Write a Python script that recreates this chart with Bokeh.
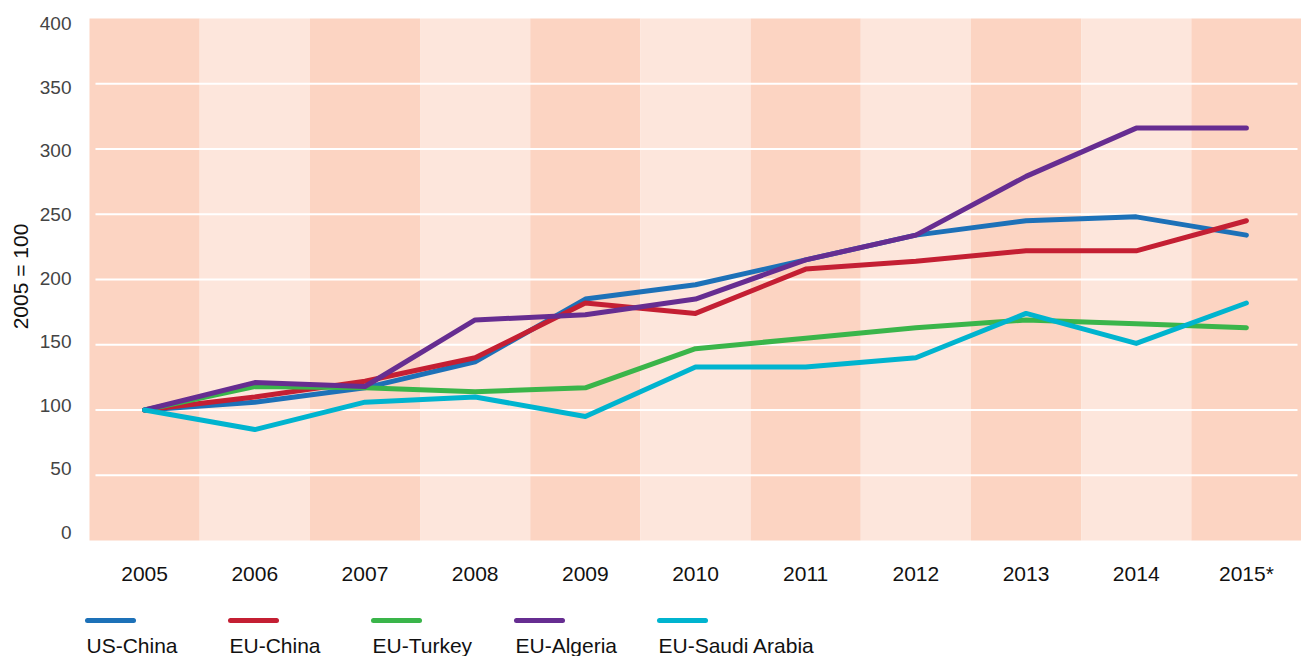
import math
from bokeh.plotting import figure
from bokeh.models import Range1d
from bokeh.embed import file_html
from bokeh.resources import INLINE
from bokeh.core.properties import value

years = ["2005", "2006", "2007", "2008", "2009", "2010", "2011", "2012", "2013", "2014", "2015*"]
us_china = [100, 106, 117, 137, 185, 196, 215, 234, 245, 248, 234]
eu_china = [100, 110, 122, 140, 182, 174, 208, 214, 222, 222, 245]
eu_turkey = [100, 118, 117, 114, 117, 147, 155, 163, 169, 166, 163]
eu_algeria = [100, 121, 118, 169, 173, 185, 215, 234, 279, 316, 316]
eu_saudi = [100, 85, 106, 110, 95, 133, 133, 140, 174, 151, 182]
series_names = ["US-China", "EU-China", "EU-Turkey", "EU-Algeria", "EU-Saudi Arabia"]
series_values = [us_china, eu_china, eu_turkey, eu_algeria, eu_saudi]
y_ticks = [0, 50, 100, 150, 200, 250, 300, 350, 400]
y_title = "2005 = 100"

colors = ["#1d71b8", "#c41f33", "#3ab54a", "#662d91", "#00b4cf"]
band_colors = ["#fcd4c2" if i % 2 == 0 else "#fde6dc" for i in range(len(years))]
FONT = "Liberation Sans"
xi = list(range(len(years)))  # category index positions

# layout geometry (page pixels)
OX, OY = 0, 0                     # canvas offset on the page
W, H = 1301, 656
BAND_L, BAND_R = 89, 1301
Y0_PX, Y400_PX = 540, 18          # where 0 and 400 of the data sit
LAB0_PX, LAB400_PX = 532, 23      # where the tick labels sit
unit = (BAND_R - BAND_L) / len(years)
ppu = (Y0_PX - Y400_PX) / 400.0
lpu = (LAB0_PX - LAB400_PX) / 400.0

p = figure(x_range=Range1d(-0.5 - (BAND_L - OX) / unit, -0.5 + (OX + W - BAND_L) / unit),
           y_range=Range1d(-(OY + H - Y0_PX) / ppu, 400 + (Y400_PX - OY) / ppu),
           width=W, height=H, output_backend="svg", toolbar_location=None,
           x_axis_location=None, y_axis_location=None)
p.min_border = 0
p.outline_line_color = None
p.background_fill_color = "white"
p.border_fill_color = "white"
p.grid.visible = False

p.extra_x_ranges = {"px": Range1d(OX, OX + W)}
p.extra_y_ranges = {"py": Range1d(OY + H, OY),
                    "lab": Range1d(-(OY + H - LAB0_PX) / lpu, 400 + (LAB400_PX - OY) / lpu)}

# alternating bands
p.vbar(x=xi, top=[400] * len(years), bottom=0, width=1.0, color=band_colors, line_color=None)

# gridlines
grid_vals = y_ticks[1:-1]
p.segment(x0=[95] * len(grid_vals), x1=[1297] * len(grid_vals), y0=grid_vals, y1=grid_vals,
          x_range_name="px", line_color="white", line_width=2)

for name, vals, c in zip(series_names, series_values, colors):
    p.line(x=xi, y=vals, line_color=c, line_width=5, line_cap="round", line_join="round")

# y tick labels
p.text(x=[71] * len(y_ticks), y=y_ticks, text=[str(t) for t in y_ticks],
       x_range_name="px", y_range_name="lab",
       text_font=value(FONT), text_font_size="19px", text_color="#444444",
       text_baseline="middle", text_align="right")
# y title
p.text(x=[20], y=[276], text=[y_title], angle=math.pi / 2,
       x_range_name="px", y_range_name="py",
       text_font=value(FONT), text_font_size="21px", text_color="#111111",
       text_baseline="middle", text_align="center")

# x category labels
p.text(x=xi, y=[573] * len(years), text=years, y_range_name="py",
       text_font=value(FONT), text_font_size="21px", text_color="#111111",
       text_baseline="middle", text_align="center")

# legend
xs0 = [87 + 143 * i for i in range(len(series_names))]
p.segment(x0=xs0, y0=[620] * len(xs0), x1=[x + 46 for x in xs0], y1=[620] * len(xs0),
          x_range_name="px", y_range_name="py",
          line_color=colors, line_width=5, line_cap="round")
p.text(x=[x - 1 for x in xs0], y=[645] * len(xs0), text=series_names,
       x_range_name="px", y_range_name="py",
       text_font=value(FONT), text_font_size="21px", text_color="#111111",
       text_baseline="middle", text_align="left")

open("out.html", "w").write(file_html(p, INLINE))
